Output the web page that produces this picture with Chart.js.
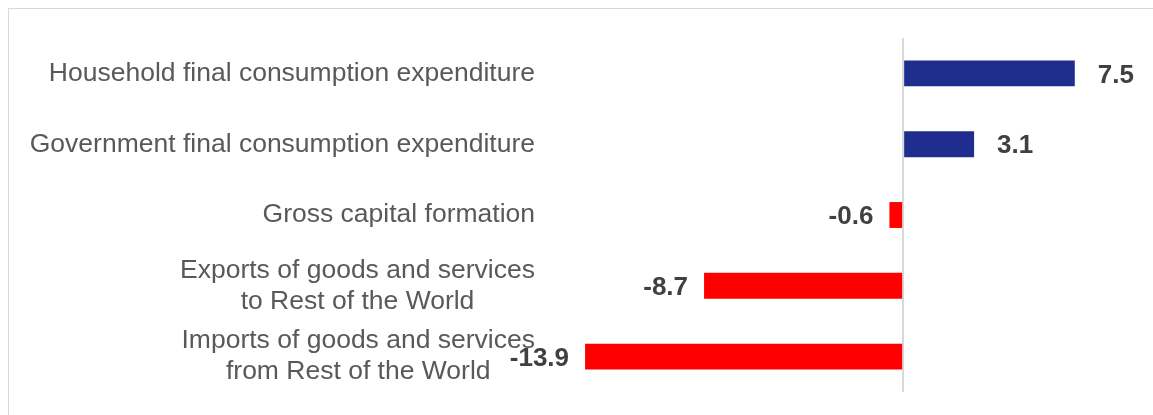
<!DOCTYPE html>
<html>
<head>
<meta charset="utf-8">
<script src="https://cdn.jsdelivr.net/npm/chart.js@4"></script>
<style>
  html, body { margin: 0; padding: 0; background: #fff; overflow: hidden; }
  #wrap { position: relative; width: 1153px; height: 415px; }
  #frame { position: absolute; left: 8px; top: 8px; width: 1400px; height: 600px; border: 1px solid #d9d9d9; }
  #Bar { position: absolute; left: 0; top: 0; }
</style>
</head>
<body>
<div id="wrap">
  <div id="frame"></div>
  <canvas id="Bar" width="1153" height="415"></canvas>
</div>
<script>
// 資料
const categories = [
  ["Household final consumption expenditure"],
  ["Government final consumption expenditure"],
  ["Gross capital formation"],
  ["Exports of goods and services", "to Rest of the World"],
  ["Imports of goods and services", "from Rest of the World"],
];
const values = [7.5, 3.1, -0.6, -8.7, -13.9];

const posColor = "#1f2d8e";
const negColor = "#ff0000";
const labelFont = "26.5px 'Liberation Sans', Arial, sans-serif";
const valueFont = "bold 26px 'Liberation Sans', Arial, sans-serif";

// 左側分類標籤 (多行置中, 整塊靠右)
const categoryLabels = {
  id: "categoryLabels",
  afterDraw(chart) {
    let ctx = chart.ctx;
    let y = chart.scales.y;
    let right = chart.chartArea.left - 2;
    ctx.save();
    ctx.font = labelFont;
    ctx.fillStyle = "#595959";
    ctx.textAlign = "center";
    ctx.textBaseline = "middle";
    for (i = 0; i < categories.length; i++) {
      let lines = categories[i];
      let widest = 0;
      lines.forEach((l) => { widest = Math.max(widest, ctx.measureText(l).width); });
      let cx = right - widest / 2;
      let cy = y.getPixelForValue(i);
      let lh = 31;
      for (j = 0; j < lines.length; j++) {
        ctx.fillText(lines[j], cx, cy + (j - (lines.length - 1) / 2) * lh);
      }
    }
    ctx.restore();
  },
};

// 數值標籤
const valueLabels = {
  id: "valueLabels",
  afterDatasetsDraw(chart) {
    let ctx = chart.ctx;
    let meta = chart.getDatasetMeta(0);
    ctx.save();
    ctx.font = valueFont;
    ctx.fillStyle = "#404040";
    ctx.textBaseline = "middle";
    meta.data.forEach((bar, i) => {
      let v = values[i];
      if (v >= 0) {
        ctx.textAlign = "left";
        ctx.fillText(v.toFixed(1), bar.x + 23, bar.y + 2);
      } else {
        ctx.textAlign = "right";
        ctx.fillText(v.toFixed(1), bar.x - 16, bar.y + 2);
      }
    });
    ctx.restore();
  },
};

var ctx = document.getElementById("Bar");
var Bar = new Chart(ctx, {
  type: "bar",
  data: {
    labels: categories,
    datasets: [
      {
        data: values,
        backgroundColor: values.map((v) => (v >= 0 ? posColor : negColor)),
        borderWidth: 0,
        categoryPercentage: 1,
        barPercentage: 0.366,
      },
    ],
  },
  options: {
    indexAxis: "y",
    responsive: false,
    animation: false,
    layout: {
      padding: { left: 537, right: 21, top: 38, bottom: 23 },
    },
    scales: {
      x: {
        min: -16,
        max: 10,
        ticks: { display: false, stepSize: 2 },
        border: { display: false },
        grid: {
          drawTicks: false,
          lineWidth: 2,
          color: (c) => (c.tick && c.tick.value === 0 ? "#d9d9d9" : "transparent"),
        },
      },
      y: {
        display: false,
      },
    },
    plugins: {
      legend: { display: false },
      tooltip: { enabled: false },
    },
  },
  plugins: [categoryLabels, valueLabels],
});
</script>
</body>
</html>
